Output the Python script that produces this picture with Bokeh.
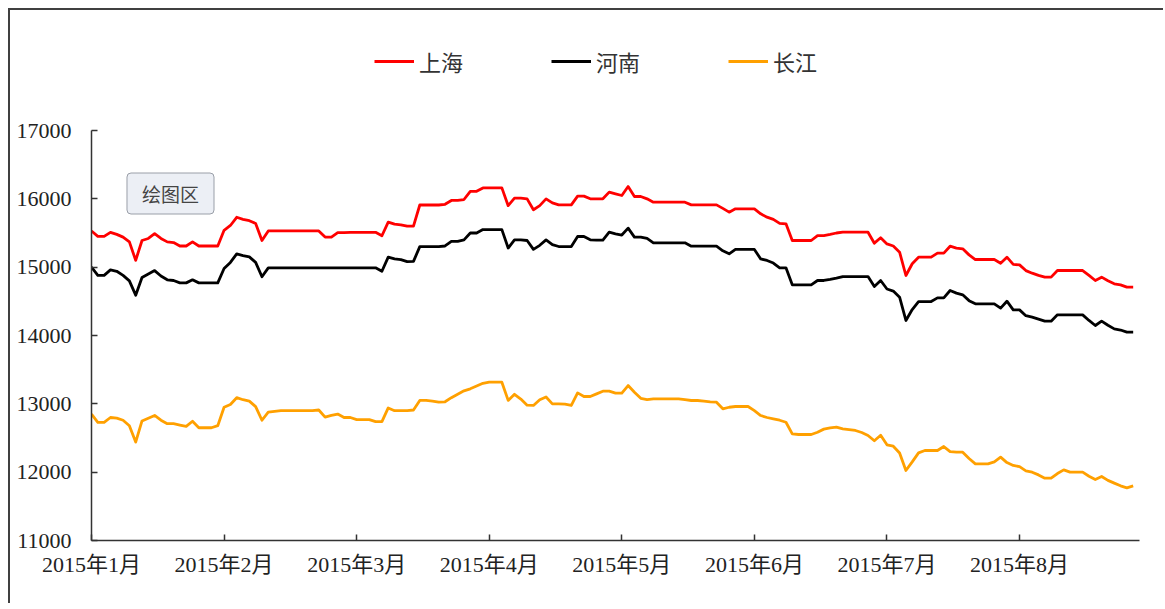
from bokeh.plotting import figure
from bokeh.models import Range1d, FixedTicker, Legend, LegendItem, Label
from bokeh.embed import file_html
from bokeh.resources import INLINE

# ---- data (trading-day index 0..165, Jan–Aug 2015) ----
month_labels = ["2015年1月", "2015年2月", "2015年3月", "2015年4月",
                "2015年5月", "2015年6月", "2015年7月", "2015年8月"]
month_ticks = [0, 21, 42, 63, 84, 105, 126, 147]
series_names = ["上海", "河南", "长江"]

shanghai = [
    15530, 15450, 15450, 15510, 15480, 15440, 15370, 15100, 15390, 15420,
    15490, 15420, 15370, 15360, 15310, 15310, 15370, 15310, 15310, 15310,
    15310, 15540, 15610, 15730, 15700, 15680, 15640, 15390, 15530, 15530,
    15530, 15530, 15530, 15530, 15530, 15530, 15530, 15440, 15440, 15505,
    15505, 15510, 15510, 15510, 15510, 15510, 15460, 15660, 15630, 15620,
    15600, 15600, 15910, 15910, 15910, 15910, 15920, 15976, 15976, 15990,
    16110, 16110, 16160, 16160, 16160, 16160, 15900, 16010, 16010, 16000,
    15840, 15900, 16000, 15940, 15912, 15912, 15912, 16040, 16040, 16000,
    16000, 16000, 16098, 16073, 16049, 16180, 16034, 16034, 16000, 15951,
    15951, 15951, 15951, 15951, 15951, 15912, 15912, 15912, 15912, 15912,
    15860, 15805, 15854, 15854, 15854, 15854, 15780, 15732, 15700, 15640,
    15634, 15390, 15390, 15390, 15390, 15463, 15463, 15480, 15500, 15512,
    15512, 15512, 15512, 15512, 15351, 15430, 15340, 15310, 15220, 14878,
    15050, 15146, 15146, 15146, 15205, 15205, 15307, 15280, 15268, 15180,
    15112, 15112, 15112, 15112, 15058, 15146, 15040, 15034, 14950, 14912,
    14880, 14854, 14854, 14951, 14951, 14951, 14951, 14951, 14880, 14805,
    14854, 14800, 14756, 14740, 14707, 14707,
]

henan = [
    15000, 14880, 14880, 14960, 14940, 14880, 14800, 14590, 14850, 14900,
    14950, 14870, 14815, 14805, 14770, 14770, 14815, 14770, 14770, 14770,
    14770, 14980, 15070, 15195, 15170, 15150, 15070, 14860, 14990, 14990,
    14990, 14990, 14990, 14990, 14990, 14990, 14990, 14990, 14990, 14990,
    14990, 14990, 14990, 14990, 14990, 14990, 14940, 15146, 15120, 15110,
    15080, 15085, 15300, 15300, 15300, 15300, 15310, 15376, 15376, 15400,
    15500, 15500, 15550, 15550, 15550, 15550, 15280, 15400, 15400, 15390,
    15260, 15320, 15400, 15330, 15302, 15302, 15302, 15449, 15449, 15400,
    15395, 15395, 15512, 15488, 15470, 15571, 15440, 15440, 15420, 15356,
    15356, 15356, 15356, 15356, 15356, 15307, 15307, 15307, 15307, 15307,
    15240, 15195, 15259, 15259, 15259, 15259, 15120, 15098, 15060, 14990,
    14990, 14742, 14742, 14742, 14742, 14805, 14805, 14820, 14839, 14863,
    14863, 14863, 14863, 14863, 14717, 14805, 14680, 14650, 14560, 14220,
    14380, 14497, 14497, 14497, 14551, 14551, 14658, 14620, 14595, 14510,
    14463, 14463, 14463, 14463, 14400, 14502, 14375, 14375, 14290, 14268,
    14240, 14210, 14210, 14302, 14302, 14302, 14302, 14302, 14220, 14146,
    14210, 14150, 14097, 14080, 14049, 14049,
]

changjiang = [
    12850, 12730, 12730, 12800, 12790, 12760, 12680, 12440, 12750, 12790,
    12830, 12760, 12710, 12710, 12690, 12670, 12745, 12650, 12650, 12650,
    12680, 12950, 12990, 13090, 13060, 13040, 12960, 12760, 12880, 12890,
    12900, 12900, 12900, 12900, 12900, 12900, 12910, 12805, 12830, 12850,
    12800, 12800, 12770, 12770, 12770, 12740, 12740, 12940, 12900, 12900,
    12900, 12910, 13050, 13050, 13040, 13025, 13030, 13090, 13140, 13190,
    13220, 13260, 13300, 13317, 13317, 13317, 13050, 13140, 13070, 12980,
    12976, 13060, 13100, 13000, 13000, 12995, 12976, 13160, 13107, 13107,
    13146, 13185, 13185, 13156, 13156, 13268, 13170, 13080, 13063, 13073,
    13073, 13073, 13073, 13073, 13060, 13049, 13049, 13040, 13030, 13024,
    12927, 12950, 12961, 12961, 12961, 12900, 12829, 12800, 12780, 12760,
    12731, 12561, 12551, 12551, 12551, 12585, 12630, 12649, 12660, 12635,
    12624, 12610, 12580, 12537, 12460, 12540, 12400, 12380, 12280, 12024,
    12150, 12283, 12317, 12317, 12317, 12375, 12300, 12293, 12293, 12200,
    12122, 12122, 12122, 12150, 12220, 12140, 12098, 12080, 12020, 12000,
    11960, 11912, 11912, 11980, 12034, 12000, 12000, 12000, 11940, 11893,
    11937, 11880, 11840, 11800, 11771, 11800,
]

days = list(range(len(shanghai)))
y_ticks = [11000, 12000, 13000, 14000, 15000, 16000, 17000]
y_min, y_max = 11000, 17000

FONT = "Liberation Serif, Noto Sans CJK SC"

# frame: 520 px tall, of which the lower 410 px hold 11000..17000;
# the headroom above hosts the legend
frame_h, axis_h = 520, 410
y_top = y_min + (y_max - y_min) * frame_h / axis_h

p = figure(width=1155, height=595,
           x_range=Range1d(0, 166), y_range=Range1d(y_min, y_top),
           output_backend="svg", toolbar_location=None,
           min_border_left=81, min_border_right=26,
           min_border_top=10, min_border_bottom=65)
p.styles = {"margin-left": "8px", "margin-top": "8px",
            "border-left": "2px solid #404040", "border-top": "2px solid #404040"}

p.background_fill_color = "white"
p.border_fill_color = "white"
p.outline_line_color = None
p.xgrid.grid_line_color = None
p.ygrid.grid_line_color = None

colors = ["#ff0000", "#000000", "#ffa000"]
renderers = []
for vals, c in zip([shanghai, henan, changjiang], colors):
    r = p.line(days, vals, line_color=c, line_width=2.8, line_join="round")
    renderers.append(r)

# axes
for ax in (p.xaxis[0], p.yaxis[0]):
    ax.axis_line_color = "#333333"
    ax.axis_line_width = 1.5
    ax.major_tick_line_color = "#333333"
    ax.major_tick_line_width = 1.5
    ax.major_tick_in = 6
    ax.major_tick_out = 0
    ax.minor_tick_line_color = None
    ax.major_label_text_font = FONT
    ax.major_label_text_font_size = "22px"
    ax.major_label_text_color = "#222222"

p.xaxis.ticker = FixedTicker(ticks=month_ticks)
p.xaxis.major_label_overrides = {t: l for t, l in zip(month_ticks, month_labels)}
p.xaxis.major_label_standoff = 11
p.yaxis.ticker = FixedTicker(ticks=y_ticks)
p.yaxis.bounds = (y_min, y_max)
p.yaxis.major_label_standoff = 20

legend = Legend(items=[LegendItem(label=n, renderers=[r]) for n, r in zip(series_names, renderers)],
                orientation="horizontal", location=(283, 463))
legend.glyph_width = 40
legend.glyph_height = 26
legend.label_height = 26
legend.label_standoff = 5
legend.spacing = 88
legend.padding = 0
legend.margin = 0
legend.border_line_color = None
legend.background_fill_alpha = 0
legend.label_text_font = "Noto Sans CJK SC"
legend.label_text_font_size = "22px"
legend.label_text_color = "#333333"
p.add_layout(legend, "center")

tip = Label(x=79, y=347, x_units="screen", y_units="screen", text="绘图区",
            text_align="center", text_baseline="middle",
            text_font="Noto Sans CJK SC", text_font_size="19px", text_color="#444444",
            background_fill_color="#eceff5", border_line_color="#9a9fa8",
            border_line_width=1, padding=(15, 7), border_radius=4)
p.add_layout(tip)

open("out.html", "w").write(file_html(p, INLINE))
